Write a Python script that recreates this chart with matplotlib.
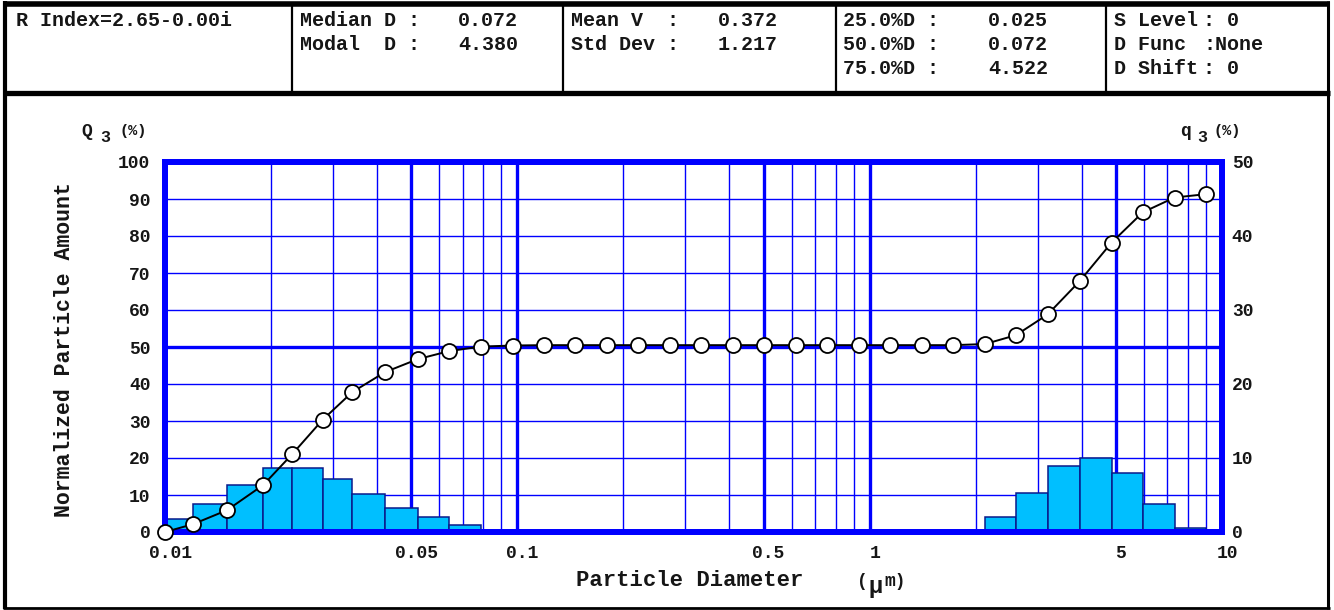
import numpy as np
import matplotlib
matplotlib.use("Agg")
import matplotlib.pyplot as plt
from matplotlib.lines import Line2D
from matplotlib.transforms import blended_transform_factory, ScaledTranslation

# ---------------------------------------------------------------- data
# channel boundaries (um), cumulative undersize Q3 (%) at each boundary
diameters = [0.0100, 0.0120, 0.0150, 0.0190, 0.0230, 0.0280, 0.0340, 0.0421,
             0.0521, 0.0641, 0.0787, 0.0969, 0.119, 0.146, 0.180, 0.220,
             0.271, 0.332, 0.409, 0.501, 0.618, 0.757, 0.933, 1.142, 1.411,
             1.728, 2.125, 2.602, 3.201, 3.946, 4.858, 5.96, 7.333, 8.991]
cumulative = [0.0, 2.1, 5.9, 12.7, 21.1, 30.3, 37.8, 43.2, 46.7, 48.9, 50.1,
              50.4, 50.5, 50.5, 50.5, 50.5, 50.5, 50.5, 50.5, 50.5, 50.5,
              50.5, 50.5, 50.5, 50.5, 50.5, 50.8, 53.2, 58.8, 67.8, 78.2,
              86.4, 90.4, 91.3]
# frequency q3 (%) of each channel (between consecutive boundaries)
frequency = [1.7, 3.8, 6.3, 8.7, 8.7, 7.1, 5.1, 3.3, 2.0, 0.9, 0.15,
             0, 0, 0, 0, 0, 0, 0, 0, 0, 0, 0, 0, 0, 0,
             0.15, 2.0, 5.3, 8.9, 10.0, 8.0, 3.8, 0.6]

x_ticks = [0.01, 0.05, 0.1, 0.5, 1, 5, 10]
x_tick_labels = ["0.01", "0.05", "0.1", "0.5", "1", "5", "10"]
x_major_grid = [0.05, 0.1, 0.5, 1, 5]
x_minor_grid = [0.02, 0.03, 0.04, 0.06, 0.07, 0.08, 0.09,
                0.2, 0.3, 0.4, 0.6, 0.7, 0.8, 0.9,
                2, 3, 4, 6, 7, 8, 9]
q3_cum_ticks = [0, 10, 20, 30, 40, 50, 60, 70, 80, 90, 100]
q3_freq_ticks = [0, 10, 20, 30, 40, 50]

ri_text = "R Index=2.65-0.00i"
stats_col1 = [("Median D :", "0.072"), ("Modal  D :", "4.380")]
stats_col2 = [("Mean V  :", "0.372"), ("Std Dev :", "1.217")]
stats_col3 = [("25.0%D :", "0.025"), ("50.0%D :", "0.072"), ("75.0%D :", "4.522")]
stats_col4 = [("S Level", ": 0"), ("D Func", ":None"), ("D Shift", ": 0")]

# ---------------------------------------------------------------- style
W, H, DPI = 1334, 610, 100
FONT = ["Liberation Mono", "DejaVu Sans Mono"]
BLUE = "#0000ff"
INK = "#161616"
BAR = "#00bfff"
BAR_EDGE = "#0a1a8a"

plt.rcParams["font.family"] = FONT
plt.rcParams["font.weight"] = "bold"

fig = plt.figure(figsize=(W / DPI, H / DPI), dpi=DPI)


def fx(px):
    return px / W


def fy(py):
    return 1 - py / H


def ftext(x, y, s, size, **kw):
    kw.setdefault("va", "center")
    kw.setdefault("ha", "left")
    fig.text(fx(x), fy(y), s, fontsize=size, color=INK,
             fontweight="bold", **kw)


def fline(x0, y0, x1, y1, lw):
    fig.add_artist(Line2D([fx(x0), fx(x1)], [fy(y0), fy(y1)],
                          transform=fig.transFigure, color="black",
                          linewidth=lw, solid_capstyle="butt"))


# ---------------------------------------------------------------- frame & header
fline(5, 1, 5, 609, 3.0)           # left
fline(1328, 1, 1328, 609, 2.2)     # right
fline(3, 4, 1330, 4, 4.0)          # top
fline(3, 608, 1330, 608, 2.0)      # bottom
fline(3, 93, 1330, 93, 3.8)        # header separator
for xd in (292, 563, 836, 1106):
    fline(xd, 6, xd, 92, 1.6)

HS = 14.4
row_y = [20, 44, 68]
ftext(16, row_y[0], ri_text, HS)
for (lab, val), y in zip(stats_col1, row_y):
    ftext(300, y, lab, HS)
    ftext(458, y, val, HS)
for (lab, val), y in zip(stats_col2, row_y):
    ftext(571, y, lab, HS)
    ftext(718, y, val, HS)
for (lab, val), y in zip(stats_col3, row_y):
    ftext(843, y, lab, HS)
    ftext(988, y, val, HS)
for (lab, val), y in zip(stats_col4, row_y):
    ftext(1114, y, lab, HS)
    ftext(1203, y, val, HS)

# ---------------------------------------------------------------- axes
ax = fig.add_axes([fx(165), fy(532), fx(1222) - fx(165), fy(162) - fy(532)])
ax.set_xscale("log")
ax.set_xlim(0.01, 10)
ax.set_ylim(0, 50)
ax2 = ax.twinx()
ax2.set_ylim(0, 100)

# grid (kept beneath the histogram)
for v in x_minor_grid:
    ax.axvline(v, color=BLUE, lw=1.0, zorder=0.5)
for v in x_major_grid:
    ax.axvline(v, color=BLUE, lw=2.4, zorder=0.6)
hgrid = blended_transform_factory(ax.transAxes, ax2.transData)
for v in q3_cum_ticks[1:-1]:
    ax.add_line(Line2D([0, 1], [v, v], transform=hgrid, color=BLUE,
                       lw=2.4 if v == 50 else 1.0, zorder=0.6))

# histogram (q3, right scale)
edges = np.array(diameters)
ax.bar(edges[:-1], frequency, width=np.diff(edges), align="edge",
       color=BAR, edgecolor=BAR_EDGE, linewidth=1.1, zorder=1)

# cumulative curve (Q3, left scale)
ax2.plot(diameters, cumulative, color="black", lw=1.4, marker="o",
         markersize=10.8, markerfacecolor="white", markeredgecolor="black",
         markeredgewidth=1.3, zorder=5, clip_on=False)

for a in (ax, ax2):
    for sp in a.spines.values():
        sp.set_color(BLUE)
        sp.set_linewidth(4.2)
        sp.set_capstyle("projecting")

# ticks and labels
ax.set_xticks(x_ticks)
ax.set_xticklabels(x_tick_labels)
ax.xaxis.set_minor_locator(matplotlib.ticker.NullLocator())
ax.tick_params(axis="x", length=0, pad=9, labelsize=13, labelcolor=INK)
shift = ScaledTranslation(5 / DPI, 0, fig.dpi_scale_trans)
for lbl in ax.get_xticklabels():
    lbl.set_transform(lbl.get_transform() + shift)

ax.yaxis.tick_right()
ax.set_yticks(q3_freq_ticks)
ax.set_yticklabels([str(t) for t in q3_freq_ticks])
ax.tick_params(axis="y", length=0, pad=7, labelsize=13, labelcolor=INK)

ax2.yaxis.tick_left()
ax2.set_yticks(q3_cum_ticks)
ax2.set_yticklabels([str(t) for t in q3_cum_ticks])
ax2.tick_params(axis="y", length=0, pad=10.5, labelsize=13, labelcolor=INK)

for lbl in ax.get_xticklabels() + ax.get_yticklabels() + ax2.get_yticklabels():
    lbl.set_fontweight("bold")

# axis titles
ftext(65, 350, "Normalized Particle Amount", 15.5, rotation=90, ha="center")
ftext(690, 581, "Particle Diameter", 16, ha="center")
ftext(857, 581, "(", 13)
ftext(868, 586, "\u03bc", 17)
ftext(884, 581, "m)", 13)

ftext(81, 132, "Q", 13)
ftext(100, 137, "3", 12)
ftext(119, 131, "(%)", 11)
ftext(1180, 132, "q", 13)
ftext(1197, 137, "3", 12)
ftext(1214, 131, "(%)", 11)

fig.savefig("out.png", dpi=DPI)
